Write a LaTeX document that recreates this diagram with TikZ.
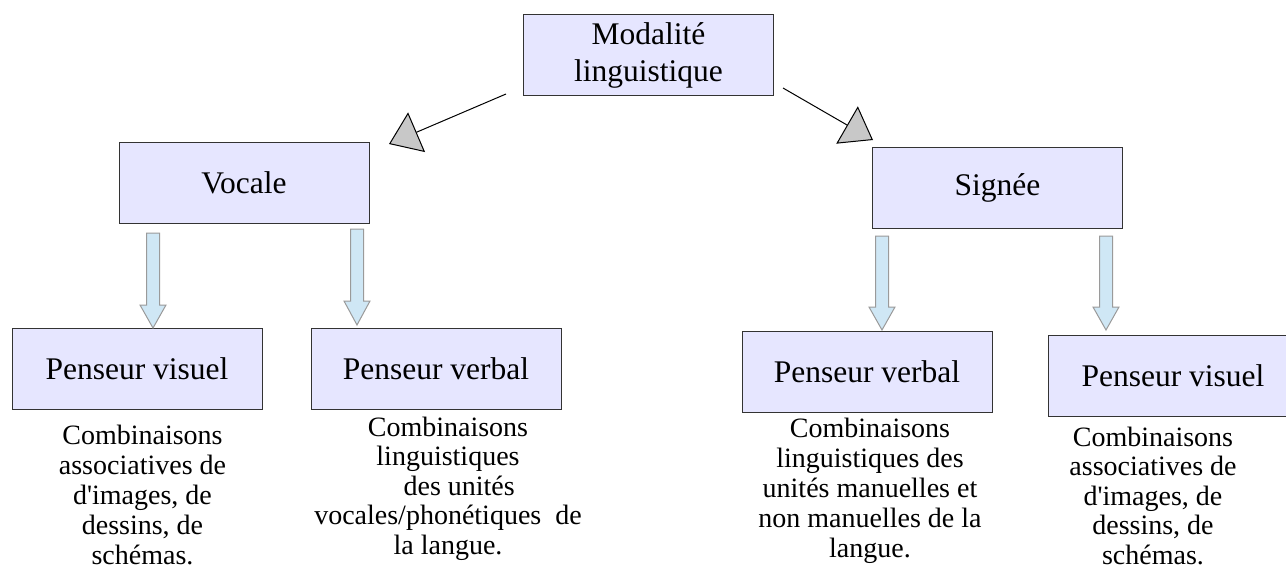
\documentclass[tikz,border=0pt]{standalone}
\usepackage{fontspec}
\setmainfont{Liberation Serif}
\usetikzlibrary{arrows.meta}
\definecolor{boxfill}{HTML}{E6E6FF}
\definecolor{boxline}{HTML}{333333}
\definecolor{arrfill}{HTML}{CFE7F5}
\definecolor{arrline}{HTML}{9A9A9A}
\definecolor{tipfill}{HTML}{C8C8C8}
\newcommand\myblockarrow[4]{%
  \draw[blockarr] (#1-6.5,#2) -- (#1+6.5,#2) -- (#1+6.5,#3) -- (#1+13,#3)
    -- (#1,#4) -- (#1-13,#3) -- (#1-6.5,#3) -- cycle;}
\begin{document}
\begin{tikzpicture}[x=1pt,y=-1pt,
  box/.style={draw=boxline, fill=boxfill, line width=1pt, minimum width=250pt,
    minimum height=81pt, inner sep=0pt, align=center,
    font=\fontsize{31.5}{37}\selectfont},
  desc/.style={inner sep=0pt, anchor=base},
  link/.style={line width=1pt, -{Triangle[length=30pt,width=43pt,fill=tipfill]}},
  blockarr/.style={draw=arrline, fill=arrfill, line width=1pt, line join=miter},
]
\useasboundingbox (0,0) rectangle (1286,570);
% boxes
\node[box] (mod) at (648.5,55) {Modalité\\linguistique};
\node[box] (voc) at (244,182.5) {Vocale};
\node[box] (sig) at (997.5,187.5) {Signée};
\node[box] (pv1) at (137,368.5) {Penseur visuel};
\node[box] (pb1) at (436,368.5) {Penseur verbal};
\node[box] (pb2) at (867,371.5) {Penseur verbal};
\node[box] (pv2) at (1173,375.5) {Penseur visuel};
% big arrows
\coordinate (sL) at (506,94);
\coordinate (tL) at (389,144);
\coordinate (sR) at (783,88);
\coordinate (tR) at (873,140);
\draw[link] (sL) -- (tL);
\draw[link] (sR) -- (tR);
% block arrows
\myblockarrow{153}{233}{305}{328}
\myblockarrow{357}{229}{301}{325}
\myblockarrow{882}{236}{307}{330}
\myblockarrow{1106}{236}{307}{330}
% descriptions
\node[desc] (d1) at (142.5,444) {\fontsize{28}{30}\selectfont
  \begin{tabular}[t]{@{}c@{}}Combinaisons\\associatives de\\d\textquotesingle images, de\\dessins, de\\schémas.\end{tabular}};
\node[desc] (d2) at (448,436) {\fontsize{28}{29.5}\selectfont
  \begin{tabular}[t]{@{}c@{}}Combinaisons\\linguistiques\\\hspace*{0.8em}des unités\\vocales/phonétiques\ \ de\\la langue.\end{tabular}};
\node[desc] (d3) at (870,437) {\fontsize{28}{30}\selectfont
  \begin{tabular}[t]{@{}c@{}}Combinaisons\\linguistiques des\\unités manuelles et\\non manuelles de la\\langue.\end{tabular}};
\node[desc] (d4) at (1153,446) {\fontsize{28}{29.5}\selectfont
  \begin{tabular}[t]{@{}c@{}}Combinaisons\\associatives de\\d\textquotesingle images, de\\dessins, de\\schémas.\end{tabular}};
\end{tikzpicture}
\end{document}
